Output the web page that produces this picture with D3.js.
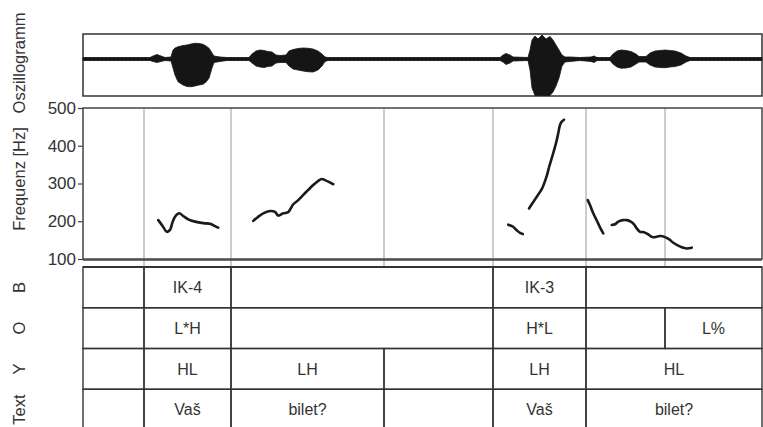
<!DOCTYPE html>
<html><head><meta charset="utf-8">
<script src="https://cdn.jsdelivr.net/npm/d3@7"></script>
<style>
html,body{margin:0;padding:0;background:#fff;}
svg{display:block;font-family:"Liberation Sans",Arial,sans-serif;}
</style></head>
<body>
<svg id="chart" width="763" height="427"></svg>
<script>
// ---------- DATA (time in ms) ----------
const totalTime = 2716;
const boundaries = [244, 592, 1204, 1640, 2012, 2328];

// oscillogram envelope (relative amplitude)
const envTime = [0,268,280,296,312,328,352,360,368,380,400,416,432,448,464,480,492,504,516,524,548,576,
  664,676,692,708,724,740,756,772,788,812,824,840,860,880,900,920,940,956,968,980,
  1668,1680,1692,1708,1720,1780,1788,1796,1808,1820,1836,1852,1868,1880,1892,1904,1916,1928,1948,1988,
  2032,2044,2056,2108,2120,2136,2152,2172,2192,2212,2224,2252,2268,2288,2308,2328,2348,2368,2392,2412,2428,2716];
const envTop = [0.06,0.06,0.12,0.18,0.12,0.06,0.08,0.36,0.44,0.49,0.54,0.56,0.6,0.63,0.62,0.59,0.52,0.43,0.24,0.12,0.08,0.06,
  0.06,0.2,0.32,0.36,0.34,0.3,0.28,0.16,0.14,0.16,0.32,0.38,0.42,0.44,0.43,0.4,0.32,0.2,0.08,0.06,
  0.06,0.16,0.22,0.16,0.08,0.06,0.36,0.76,0.92,0.8,0.96,0.8,0.9,0.76,0.56,0.36,0.16,0.08,0.08,0.06,
  0.08,0.12,0.06,0.06,0.2,0.32,0.36,0.34,0.3,0.2,0.1,0.1,0.24,0.32,0.34,0.36,0.34,0.32,0.24,0.12,0.06,0.06];
const envBottom = [-0.06,-0.06,-0.1,-0.14,-0.1,-0.06,-0.08,-0.36,-0.64,-0.91,-1.04,-1.1,-1.11,-1.08,-1.04,-1.01,-0.92,-0.77,-0.36,-0.14,-0.1,-0.06,
  -0.06,-0.16,-0.28,-0.32,-0.34,-0.3,-0.28,-0.16,-0.14,-0.14,-0.28,-0.4,-0.44,-0.48,-0.51,-0.52,-0.44,-0.28,-0.1,-0.06,
  -0.06,-0.12,-0.22,-0.16,-0.08,-0.06,-0.44,-1.16,-1.46,-1.46,-1.46,-1.46,-1.46,-1.32,-1.08,-0.76,-0.28,-0.12,-0.1,-0.06,
  -0.1,-0.14,-0.06,-0.06,-0.2,-0.32,-0.37,-0.36,-0.32,-0.2,-0.12,-0.12,-0.24,-0.32,-0.34,-0.35,-0.32,-0.3,-0.24,-0.12,-0.06,-0.06];

// F0 contours: [time ms, Hz]
const f0Seg1 = [[301,203],[319,187],[335,172],[348,177],[357,195],[368,212],[385,221],[401,214],[421,205],[448,199],[481,195],[511,193],[528,187],[541,183]];
const f0Seg2 = [[681,201],[701,212],[721,221],[748,227],[768,225],[781,215],[801,221],[821,224],[831,234],[841,245],[861,256],[881,270],[901,283],[921,296],[941,307],[955,312],[968,309],[981,305],[1001,298]];
const f0Seg3 = [[1701,191],[1719,186],[1735,176],[1748,169],[1759,166]];
const f0Seg4 = [[1784,234],[1799,249],[1815,265],[1835,285],[1844,299],[1855,320],[1865,345],[1879,376],[1892,407],[1901,433],[1908,455],[1915,464],[1924,469]];
const f0Seg5 = [[2019,256],[2028,243],[2041,221],[2055,202],[2068,184],[2081,168]];
const f0Seg6 = [[2115,190],[2128,192],[2141,199],[2159,203],[2175,203],[2191,199],[2204,192],[2215,181],[2228,172],[2244,171],[2261,165],[2277,158],[2295,159],[2311,161],[2328,158],[2345,152],[2361,143],[2377,137],[2395,131],[2415,128],[2435,130]];
const f0Segments = [f0Seg1, f0Seg2, f0Seg3, f0Seg4, f0Seg5, f0Seg6];
const freqTicks = [100, 200, 300, 400, 500];

// annotation tiers: [start, end, label]
const tierLabels = ["B", "O", "Y", "Text"];
const tierB = [[0,244,""],[244,592,"IK-4"],[592,1640,""],[1640,2012,"IK-3"],[2012,2716,""]];
const tierO = [[0,244,""],[244,592,"L*H"],[592,1640,""],[1640,2012,"H*L"],[2012,2328,""],[2328,2716,"L%"]];
const tierY = [[0,244,""],[244,592,"HL"],[592,1204,"LH"],[1204,1640,""],[1640,2012,"LH"],[2012,2716,"HL"]];
const tierText = [[0,244,""],[244,592,"Vaš"],[592,1204,"bilet?"],[1204,1640,""],[1640,2012,"Vaš"],[2012,2716,"bilet?"]];
const tiers = [tierB, tierO, tierY, tierText];

// ---------- LAYOUT ----------
const svg = d3.select("#chart");
const left = 83, right = 762;
const x = d3.scaleLinear().domain([0, totalTime]).range([left, right]);
const oscTop = 34, oscBot = 96;
const amp = d3.scaleLinear().domain([-1.48, 1]).range([oscBot, oscTop]);
const fTop = 108, fBot = 259;
const y = d3.scaleLinear().domain([100, 500]).range([fBot, fTop]);
const tabTop = 267, tabBot = 430;
const row = d3.scaleBand().domain(tierLabels).range([tabTop, tabBot]);

const ink = "#2a2a2a";

// ---------- OSCILLOGRAM ----------
svg.append("rect").attr("x", left).attr("y", oscTop).attr("width", right - left).attr("height", oscBot - oscTop)
  .attr("fill", "none").attr("stroke", "#333").attr("stroke-width", 1.5);
svg.append("line").attr("x1", x(0) + 2).attr("x2", x(totalTime) - 2).attr("y1", amp(0)).attr("y2", amp(0))
  .attr("stroke", ink).attr("stroke-width", 3.5).attr("stroke-dasharray", "1.5,2.5");
svg.append("line").attr("x1", x(0) + 2).attr("x2", x(totalTime) - 2).attr("y1", amp(0)).attr("y2", amp(0))
  .attr("stroke", ink).attr("stroke-width", 1.4);
const envData = envTime.map((t, i) => ({t, top: envTop[i], bot: envBottom[i]}));
svg.append("path").datum(envData)
  .attr("d", d3.area().x(d => x(d.t)).y0(d => amp(d.bot)).y1(d => amp(d.top)).curve(d3.curveLinear))
  .attr("fill", "#151515").attr("stroke", "#151515").attr("stroke-width", 0.8);

// ---------- F0 PANEL ----------
boundaries.forEach(b => {
  svg.append("line").attr("x1", x(b)).attr("x2", x(b)).attr("y1", fTop).attr("y2", tabTop)
    .attr("stroke", "#9a9a9a").attr("stroke-width", 1);
});
svg.append("rect").attr("x", left).attr("y", fTop).attr("width", right - left).attr("height", fBot - fTop)
  .attr("fill", "none").attr("stroke", "#444").attr("stroke-width", 1.5);
svg.append("line").attr("x1", left).attr("x2", right).attr("y1", fBot + 1).attr("y2", fBot + 1)
  .attr("stroke", "#444").attr("stroke-width", 1.5);

const yAxis = svg.append("g").attr("transform", `translate(${left},0)`)
  .call(d3.axisLeft(y).tickValues(freqTicks).tickSize(5).tickSizeOuter(0).tickPadding(2));
yAxis.select(".domain").remove();
yAxis.selectAll(".tick line").attr("stroke", "#444").attr("stroke-width", 1.2);
yAxis.selectAll(".tick text").attr("font-size", 17).attr("fill", "#333")
  .attr("font-family", "'Liberation Sans', Arial, sans-serif");

const line = d3.line().x(d => x(d[0])).y(d => y(d[1])).curve(d3.curveCatmullRom);
f0Segments.forEach(seg => {
  svg.append("path").datum(seg).attr("d", line).attr("fill", "none")
    .attr("stroke", "#1a1a1a").attr("stroke-width", 2.6)
    .attr("stroke-linecap", "round").attr("stroke-linejoin", "round");
});

// ---------- TABLE ----------
tiers.forEach((tier, i) => {
  const y0 = row(tierLabels[i]), h = row.bandwidth();
  tier.forEach(c => {
    svg.append("rect").attr("x", x(c[0])).attr("y", y0).attr("width", x(c[1]) - x(c[0])).attr("height", h)
      .attr("fill", "none").attr("stroke", "#333").attr("stroke-width", 1.4);
    if (c[2]) {
      svg.append("text").attr("x", (x(c[0]) + x(c[1])) / 2).attr("y", y0 + h / 2).attr("dy", "0.36em")
        .attr("text-anchor", "middle").attr("font-size", 16).attr("fill", "#333").text(c[2]);
    }
  });
});
svg.append("line").attr("x1", left).attr("x2", right).attr("y1", tabTop).attr("y2", tabTop)
  .attr("stroke", "#333").attr("stroke-width", 2);

// ---------- ROTATED LABELS ----------
function vlabel(txt, cx, cy, size) {
  svg.append("text").attr("transform", `translate(${cx},${cy}) rotate(-90)`)
    .attr("text-anchor", "middle").attr("dy", "0.35em").attr("font-size", size).attr("fill", "#333").text(txt);
}
vlabel("Oszillogramm", 19, 63, 16.5);
vlabel("Frequenz [Hz]", 19, 179, 16.5);
tierLabels.forEach(l => vlabel(l, 19, row(l) + row.bandwidth() / 2, 16.5));
</script>
</body></html>
